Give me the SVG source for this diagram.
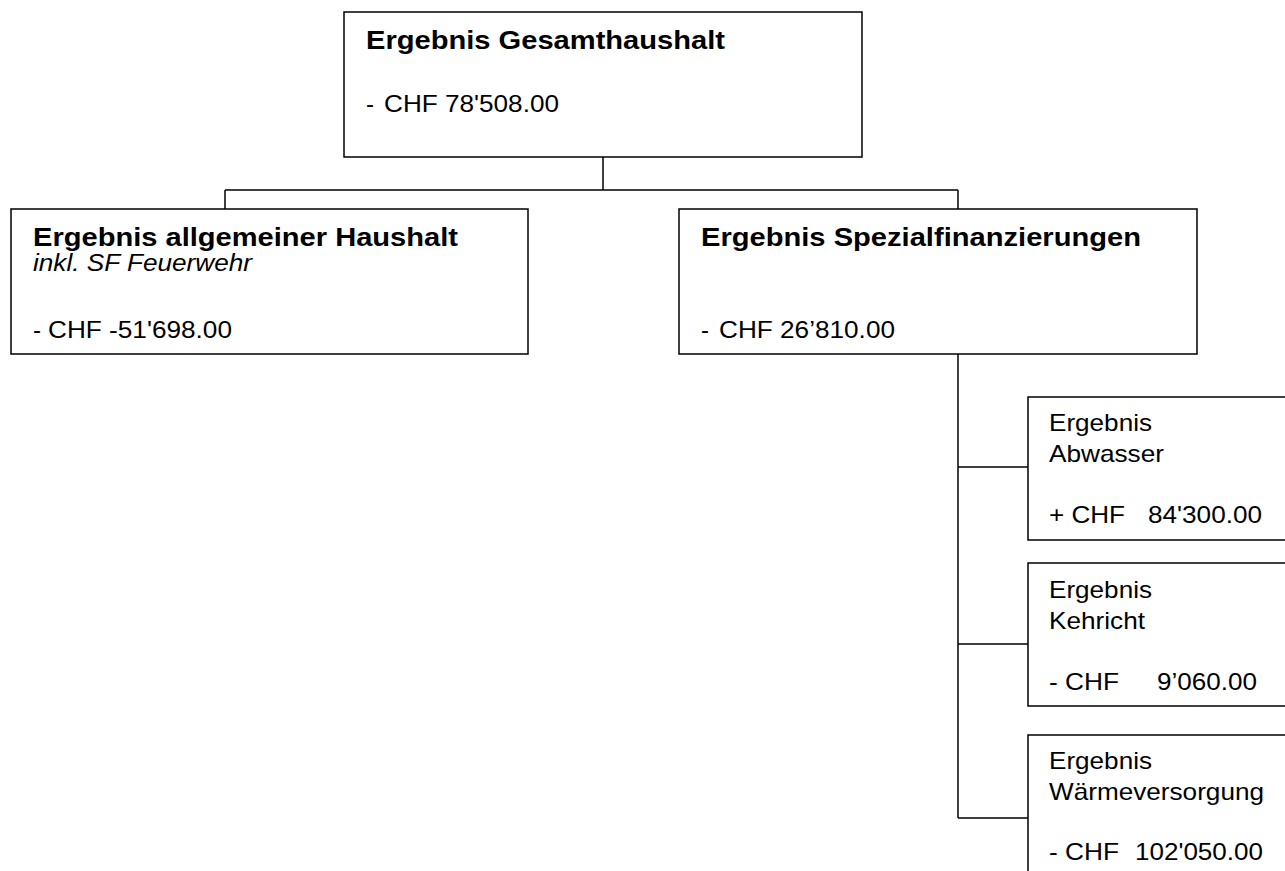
<svg xmlns="http://www.w3.org/2000/svg" width="1285" height="871" viewBox="0 0 1285 871">
<style>
.box{fill:#fff;stroke:#000;stroke-width:1.5}
.ln{fill:none;stroke:#000;stroke-width:1.5}
.t{font-family:"Liberation Sans",Arial,sans-serif;font-size:24px;fill:#000}
.b{font-weight:bold;font-size:25px}
.i{font-style:italic}
</style>
<rect width="1285" height="871" fill="#fff"/>
<g id="connectors">
<path class="ln" d="M603,157V190M225,190H958M225,190V209M958,190V209"/>
<path class="ln" d="M958,354V818M958,467H1028M958,644H1028M958,818H1028"/>
</g>
<g id="gesamt">
<rect class="box" x="344" y="12" width="518" height="145"/>
<text class="t b" x="366" y="49" textLength="359" lengthAdjust="spacingAndGlyphs">Ergebnis Gesamthaushalt</text>
<text class="t" x="366" y="112">-</text>
<text class="t" x="384" y="112" textLength="175" lengthAdjust="spacingAndGlyphs">CHF 78'508.00</text>
</g>
<g id="allgemein">
<rect class="box" x="11" y="209" width="517" height="145"/>
<text class="t b" x="33" y="246" textLength="425" lengthAdjust="spacingAndGlyphs">Ergebnis allgemeiner Haushalt</text>
<text class="t i" x="33" y="271" textLength="219" lengthAdjust="spacingAndGlyphs">inkl. SF Feuerwehr</text>
<text class="t" x="33" y="338">-</text>
<text class="t" x="48" y="338" textLength="184" lengthAdjust="spacingAndGlyphs">CHF -51'698.00</text>
</g>
<g id="spezial">
<rect class="box" x="679" y="209" width="518" height="145"/>
<text class="t b" x="701" y="246" textLength="440" lengthAdjust="spacingAndGlyphs">Ergebnis Spezialfinanzierungen</text>
<text class="t" x="701" y="338">-</text>
<text class="t" x="719" y="338" textLength="176" lengthAdjust="spacingAndGlyphs">CHF 26’810.00</text>
</g>
<g id="abwasser">
<rect class="box" x="1028" y="397" width="520" height="143"/>
<text class="t" x="1049" y="431" textLength="103" lengthAdjust="spacingAndGlyphs">Ergebnis</text>
<text class="t" x="1049" y="462" textLength="115" lengthAdjust="spacingAndGlyphs">Abwasser</text>
<text class="t" x="1049" y="523" textLength="76" lengthAdjust="spacingAndGlyphs">+ CHF</text>
<text class="t" x="1148" y="523" textLength="114" lengthAdjust="spacingAndGlyphs">84'300.00</text>
</g>
<g id="kehricht">
<rect class="box" x="1028" y="563" width="520" height="143"/>
<text class="t" x="1049" y="598" textLength="103" lengthAdjust="spacingAndGlyphs">Ergebnis</text>
<text class="t" x="1049" y="629" textLength="96" lengthAdjust="spacingAndGlyphs">Kehricht</text>
<text class="t" x="1049" y="690" textLength="70" lengthAdjust="spacingAndGlyphs">- CHF</text>
<text class="t" x="1157" y="690" textLength="100" lengthAdjust="spacingAndGlyphs">9’060.00</text>
</g>
<g id="waerme">
<rect class="box" x="1028" y="735" width="520" height="150"/>
<text class="t" x="1049" y="769" textLength="103" lengthAdjust="spacingAndGlyphs">Ergebnis</text>
<text class="t" x="1049" y="800" textLength="215" lengthAdjust="spacingAndGlyphs">Wärmeversorgung</text>
<text class="t" x="1049" y="860" textLength="70" lengthAdjust="spacingAndGlyphs">- CHF</text>
<text class="t" x="1135" y="860" textLength="128" lengthAdjust="spacingAndGlyphs">102'050.00</text>
</g>
</svg>
